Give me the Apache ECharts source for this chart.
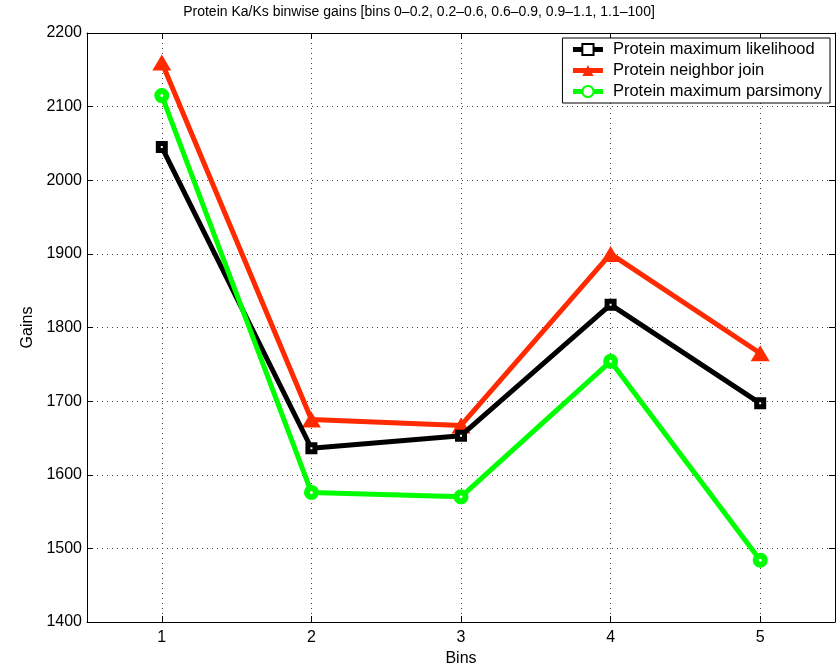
<!DOCTYPE html>
<html><head><meta charset="utf-8">
<script src="https://cdn.jsdelivr.net/npm/echarts@6/dist/echarts.min.js"></script>
<style>html,body{margin:0;padding:0;background:#fff}#c{width:838px;height:667px}</style>
</head><body><div id="c"></div>
<script>
const categories = ['1','2','3','4','5'];
const mlValues = [2045, 1636, 1653, 1831, 1697];
const njValues = [2160, 1675, 1667, 1900, 1765];
const mpValues = [2115, 1576, 1570, 1754, 1484];

const FONT = '"Liberation Sans", Arial, Helvetica, sans-serif';
const chart = echarts.init(document.getElementById('c'));
const grid = {left:87, right:3, top:33, bottom:45, containLabel:false, outerBoundsMode:'none'};
const tickStyle = {show:true, inside:true, length:6, lineStyle:{color:'#000', width:1}};
const gridLine = {show:true, lineStyle:{color:'#444', type:[1,4], width:1}};
chart.setOption({
  backgroundColor:'#fff',
  animation:false,
  title:{text:'Protein Ka/Ks binwise gains [bins 0\u20130.2, 0.2\u20130.6, 0.6\u20130.9, 0.9\u20131.1, 1.1\u2013100]',
    left:'center', top:5, padding:0,
    textStyle:{fontFamily:FONT, fontSize:14, fontWeight:'normal', color:'#000'}},
  grid:grid,
  legend:{
    right:8, top:38, orient:'vertical', padding:[3,8,3,8],
    backgroundColor:'#fff', borderColor:'#000', borderWidth:1, borderRadius:0,
    itemWidth:30, itemHeight:14, itemGap:4,
    lineStyle:{width:5},
    textStyle:{fontFamily:FONT, fontSize:16.5, color:'#000', padding:[0,0,0,5]},
    data:['Protein maximum likelihood','Protein neighbor join','Protein maximum parsimony']
  },
  xAxis:[{
    type:'category', data:categories, boundaryGap:true,
    name:'Bins', nameLocation:'middle', nameGap:28,
    nameTextStyle:{fontFamily:FONT, fontSize:16, color:'#000'},
    axisLine:{show:true, lineStyle:{color:'#000', width:1}},
    axisTick:Object.assign({alignWithLabel:true}, tickStyle),
    axisLabel:{fontFamily:FONT, fontSize:16, color:'#000', margin:8},
    splitLine:Object.assign({alignWithLabel:true}, gridLine)
  },{
    type:'category', data:categories, boundaryGap:true, position:'top',
    axisLine:{show:true, lineStyle:{color:'#000', width:1}},
    axisTick:Object.assign({alignWithLabel:true}, tickStyle),
    axisLabel:{show:false}, splitLine:{show:false}
  }],
  yAxis:[{
    type:'value', min:1400, max:2200, interval:100,
    name:'Gains', nameLocation:'middle', nameGap:50,
    nameTextStyle:{fontFamily:FONT, fontSize:16, color:'#000'},
    axisLine:{show:true, lineStyle:{color:'#000', width:1}},
    axisTick:tickStyle,
    axisLabel:{fontFamily:FONT, fontSize:16, color:'#000', margin:5, formatter:v=>String(v)},
    splitLine:gridLine
  },{
    type:'value', min:1400, max:2200, interval:100, position:'right',
    axisLine:{show:true, lineStyle:{color:'#000', width:1}},
    axisTick:tickStyle, axisLabel:{show:false}, splitLine:{show:false}
  }],
  series:[
    {name:'Protein maximum likelihood', type:'line', data:mlValues, symbol:'rect', symbolSize:7,
     lineStyle:{color:'#000', width:5}, itemStyle:{color:'#fff', borderColor:'#000', borderWidth:5}, z:3},
    {name:'Protein neighbor join', type:'line', data:njValues, symbol:'triangle', symbolSize:[19,16],
     lineStyle:{color:'#ff2a00', width:5}, itemStyle:{color:'#ff2a00'}, z:2},
    {name:'Protein maximum parsimony', type:'line', data:mpValues, symbol:'circle', symbolSize:9,
     lineStyle:{color:'#00ff00', width:5}, itemStyle:{color:'#fff', borderColor:'#00ff00', borderWidth:6}, z:4}
  ]
});
</script></body></html>
